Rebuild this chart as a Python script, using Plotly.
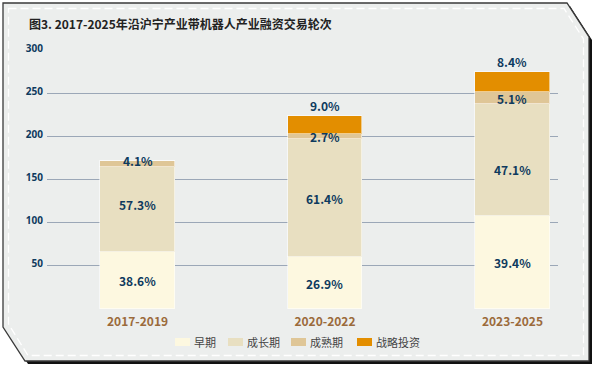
import plotly.graph_objects as go

# ---- data ----
categories = ["2017-2019", "2020-2022", "2023-2025"]
series_names = ["早期", "成长期", "成熟期", "战略投资"]
early = [66, 60, 108]
growth = [98, 137, 129]
mature = [7, 6, 14]
strategic = [0, 20, 23]
y_ticks = [0, 50, 100, 150, 200, 250, 300]
title_text = "图3. 2017-2025年沿沪宁产业带机器人产业融资交易轮次"

series_values = [early, growth, mature, strategic]
colors = ["#fdf8e0", "#e8dfc1", "#dfc697", "#e38e00"]

W, H = 598, 370
ML, MR, MT, MB = 47, 40, 50, 61
PW, PH = W - ML - MR, H - MT - MB


def px(x):
    return (x - ML) / PW


def py(y):
    return (H - MB - y) / PH


totals = [sum(v[i] for v in series_values) for i in range(len(categories))]

fig = go.Figure()
for name, vals, col in zip(series_names, series_values, colors):
    fig.add_trace(go.Bar(
        x=categories, y=vals, name=name, width=0.4,
        marker=dict(color=col, line=dict(color="rgba(255,255,255,0.55)", width=1)),
        showlegend=False, hoverinfo="skip",
    ))

label_font = dict(family="Noto Sans CJK SC", size=12, color="#0e3a5e")
# small label offsets (px) for readability, keyed by (series index, category index)
offsets = {(2, 0): 4, (1, 0): 5, (1, 2): -9}

annotations = []
for si, vals in enumerate(series_values):
    cum = [sum(series_values[k][i] for k in range(si)) for i in range(len(categories))]
    for ci, v in enumerate(vals):
        if v == 0:
            continue
        pct = f"{v / totals[ci] * 100:.1f}%"
        if si == len(series_values) - 1:
            annotations.append(dict(x=categories[ci], y=cum[ci] + v, text=f"<b>{pct}</b>",
                                    showarrow=False, yanchor="bottom", yshift=0, font=label_font))
        else:
            annotations.append(dict(x=categories[ci], y=cum[ci] + v / 2, text=f"<b>{pct}</b>",
                                    showarrow=False, yanchor="middle",
                                    yshift=offsets.get((si, ci), 0), font=label_font))

# title
annotations.append(dict(xref="paper", yref="paper", x=px(27), y=py(24), xanchor="left",
                        yanchor="middle", text=f"<b>{title_text}</b>", showarrow=False,
                        font=dict(family="Noto Sans CJK SC", size=12, color="#222222")))

shapes = []


def poly(pts):
    return "M " + " L ".join(f"{px(x):.5f},{py(y):.5f}" for x, y in pts) + " Z"


outer = [(3, 3), (567, 3), (589, 37), (589, 361), (25, 361), (3, 327)]
shadow = [(x + 3, y + 3) for x, y in outer]
inner = [(8.5, 8.5), (564, 8.5), (583.5, 39), (583.5, 355.5), (28, 355.5), (8.5, 324)]
shapes.append(dict(type="path", xref="paper", yref="paper", path=poly(shadow),
                   fillcolor="#111111", line=dict(width=0), layer="below"))
shapes.append(dict(type="path", xref="paper", yref="paper", path=poly(outer),
                   fillcolor="#eceeed", line=dict(color="#3a3a3a", width=1.3), layer="below"))
shapes.append(dict(type="path", xref="paper", yref="paper", path=poly(inner),
                   fillcolor="rgba(0,0,0,0)", line=dict(color="#ffffff", width=1.3, dash="8px,4px"),
                   layer="below"))

# custom legend
legend_x = [175, 228, 291, 357]
for name, col, lx in zip(series_names, colors, legend_x):
    shapes.append(dict(type="rect", xref="paper", yref="paper",
                       x0=px(lx), x1=px(lx + 15), y0=py(346), y1=py(338),
                       fillcolor=col, line=dict(width=0)))
    annotations.append(dict(xref="paper", yref="paper", x=px(lx + 16.5), y=py(342),
                            xanchor="left", yanchor="middle", text=name, showarrow=False,
                            font=dict(family="Noto Sans CJK SC", size=11, color="#444444")))

fig.update_layout(
    width=W, height=H,
    margin=dict(l=ML, r=MR, t=MT, b=MB, pad=0),
    paper_bgcolor="#ffffff", plot_bgcolor="rgba(0,0,0,0)",
    barmode="stack", bargap=0,
    showlegend=False,
    shapes=shapes, annotations=annotations,
    xaxis=dict(range=[-0.483, 2.243], showgrid=False, zeroline=False, showline=False,
               ticks="", ticklabelstandoff=4,
               tickfont=dict(family="Noto Sans CJK SC", size=12, color="#9b6a3b"),
               tickvals=categories, ticktext=[f"<b>{c}</b>" for c in categories],
               fixedrange=True),
    yaxis=dict(range=[0, 300], tickvals=y_ticks,
               ticktext=["" if t == 0 else f"<b>{t}</b>" for t in y_ticks],
               showgrid=True, gridcolor="#9ba7b7", gridwidth=1.2, zeroline=False,
               showline=False, ticks="", ticklabelstandoff=3, ticklabelshift=-2,
               tickfont=dict(family="Noto Sans", size=10, color="#0e3a5e"), fixedrange=True),
)

fig.write_html("out.html", config={"displayModeBar": False},
               post_script="document.body.style.margin='0';document.body.style.overflow='hidden';")
